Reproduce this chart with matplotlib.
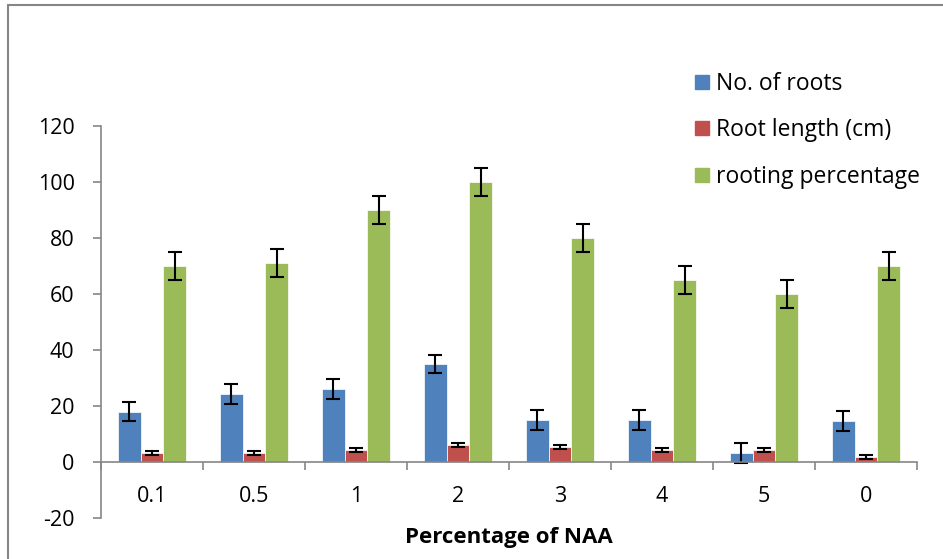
import matplotlib
matplotlib.use("Agg")
import matplotlib.pyplot as plt
import numpy as np
from matplotlib.lines import Line2D
from matplotlib.patches import Rectangle

categories = ["0.1", "0.5", "1", "2", "3", "4", "5", "0"]
series_names = ["No. of roots", "Root length (cm)", "rooting percentage"]
no_of_roots = [18, 24.3, 26, 35, 15, 15, 3.2, 14.6]
no_of_roots_err = [3.3, 3.5, 3.5, 3.3, 3.5, 3.5, 3.5, 3.5]
root_length = [3.2, 3.2, 4.2, 6.2, 5.3, 4.2, 4.2, 1.8]
root_length_err = [0.7, 0.7, 0.7, 0.7, 0.7, 0.7, 0.7, 0.7]
rooting_pct = [70, 71, 90, 100, 80, 65, 60, 70]
rooting_pct_err = [5, 5, 5, 5, 5, 5, 5, 5]
yticks = [-20, 0, 20, 40, 60, 80, 100, 120]

colors = ["#4F81BD", "#C0504D", "#9BBB59"]
font = "Open Sans"

fig = plt.figure(figsize=(9.43, 5.59), dpi=100)
ax = fig.add_axes([101 / 943, 41 / 559, 816 / 943, 392 / 559])

x = np.arange(len(categories))
w = 0.225
data = [(no_of_roots, no_of_roots_err), (root_length, root_length_err), (rooting_pct, rooting_pct_err)]
for i, (vals, errs) in enumerate(data):
    ax.bar(x + (i - 1) * w, vals, w, color=colors[i], edgecolor="white", linewidth=0.5,
           yerr=errs, error_kw=dict(ecolor="black", elinewidth=1.5, capsize=5, capthick=1.5),
           zorder=2)

ax.set_xlim(-0.5, len(categories) - 0.5)
ax.set_ylim(-20, 120)
ax.set_yticks(yticks)
ax.set_yticklabels([str(t) for t in yticks], fontsize=15.5, family=font)

ax.spines["top"].set_visible(False)
ax.spines["right"].set_visible(False)
ax.spines["bottom"].set_position(("data", 0))
for s in ["left", "bottom"]:
    ax.spines[s].set_color("#868686")
    ax.spines[s].set_linewidth(1.2)

ax.set_xticks(np.arange(len(categories) + 1) - 0.5)
ax.set_xticklabels([])
ax.tick_params(axis="x", which="major", length=6, color="#868686", width=1.2)
ax.tick_params(axis="y", which="major", length=6, color="#868686", width=1.2, pad=13)
ax.set_xticks(x, minor=True)
ax.set_xticklabels(categories, minor=True, fontsize=15.5, family=font)
ax.tick_params(axis="x", which="minor", length=0, pad=17)

fig.text(0.5 * (101 + 917) / 943, 1 - 538 / 559, "Percentage of NAA", fontsize=16,
         fontweight="bold", family=font, ha="center", va="center")

handles = [Line2D([], [], marker="s", linestyle="none", markersize=9.4, color=c) for c in colors]
leg = fig.legend(handles, series_names, loc="upper left", bbox_to_anchor=(692.6 / 943, 1 - 72 / 559),
                 frameon=False, prop={"family": font, "size": 16.5}, handletextpad=0.22,
                 labelspacing=0.98, handlelength=0.78, borderaxespad=0, borderpad=0)

fig.add_artist(Rectangle((8 / 943, -0.1), 1.2, (1 - 5 / 559) + 0.1, transform=fig.transFigure,
                         fill=False, edgecolor="#868686", linewidth=1.5))

fig.savefig("out.png", dpi=100)
